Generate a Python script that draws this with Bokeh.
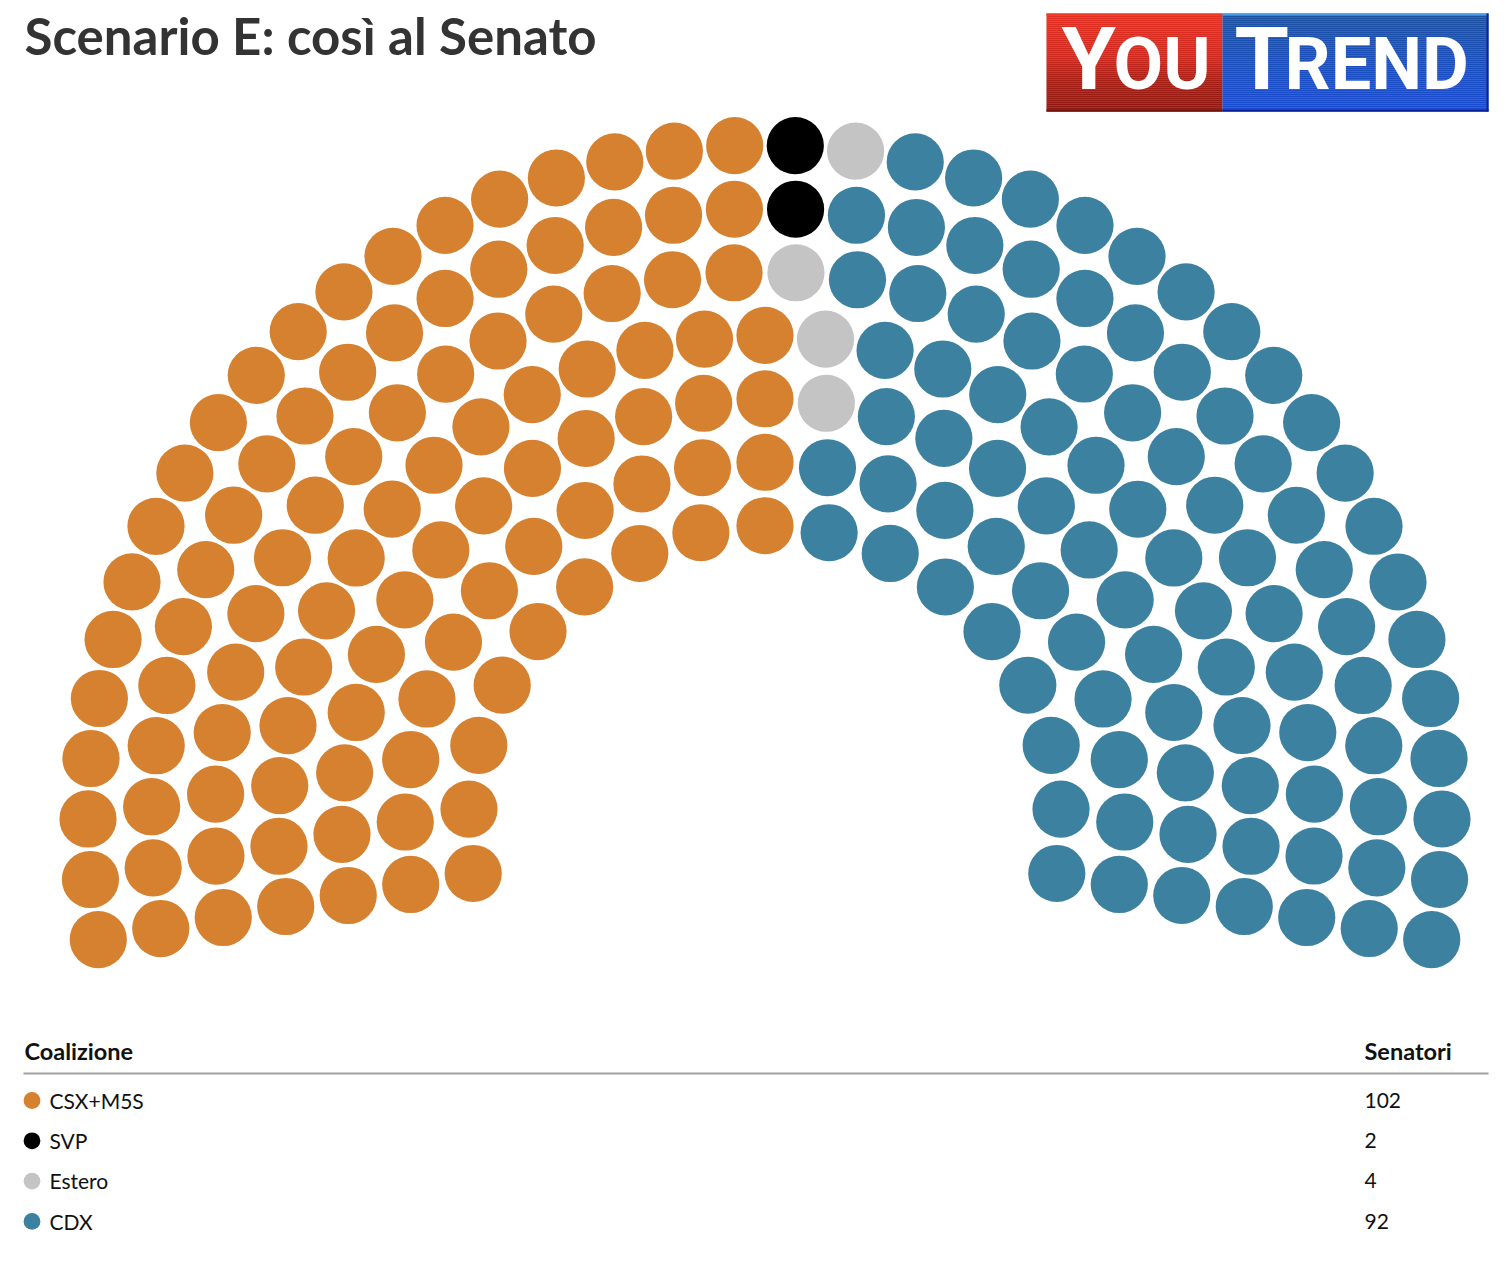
import math
from bokeh.plotting import figure
from bokeh.models import Range1d
from bokeh.core.properties import value
from bokeh.embed import file_html
from bokeh.resources import INLINE

# ---------------- data ----------------
parties = ["CSX+M5S", "SVP", "Estero", "CDX"]
seats = [102, 2, 4, 92]
colors = ["#d5812f", "#000000", "#c4c4c4", "#3c81a0"]
title_text = "Scenario E: così al Senato"
col_header_left = "Coalizione"
col_header_right = "Senatori"

# ---------------- layout params ----------------
W, H = 1490, 1256
N_ROWS = 7
ARC_DEG = 200.0
CX, CY = 764.5, 821.5
R_IN, R_OUT = 296.3, 677.0
DOT_R = 28.6
BASE_K = 0.39  # baseline correction factor for text


def by(baseline, size):
    return baseline - BASE_K * size


p = figure(width=W, height=H, output_backend="svg", toolbar_location=None,
           x_range=Range1d(0, W), y_range=Range1d(H, 0), min_border=0)
p.axis.visible = False
p.grid.visible = False
p.outline_line_color = None
p.background_fill_color = "white"
p.border_fill_color = "white"

# ---------------- parliament layout ----------------
total = sum(seats)
radii = [R_IN + i * (R_OUT - R_IN) / (N_ROWS - 1) for i in range(N_ROWS)]
raw = [total * r / sum(radii) for r in radii]
counts = [int(math.floor(v)) for v in raw]
rem = total - sum(counts)
order = sorted(range(N_ROWS), key=lambda i: -(raw[i] - counts[i]))
for i in order[:rem]:
    counts[i] += 1

seat_list = []
start = 90 + ARC_DEG / 2
for ri, (r, n) in enumerate(zip(radii, counts)):
    for k in range(n):
        ang = start - k * ARC_DEG / (n - 1)
        seat_list.append((round(ang, 6), ri, r))
seat_list.sort(key=lambda s: (-s[0], s[1]))

seat_colors = []
for c, n in zip(colors, seats):
    seat_colors += [c] * n

xs, ys = [], []
for ang, ri, r in seat_list:
    a = math.radians(ang)
    xs.append(CX + r * math.cos(a))
    ys.append(CY - r * math.sin(a))

p.circle(x=xs, y=ys, radius=DOT_R, fill_color=seat_colors, line_color=None)

# ---------------- title ----------------
TS = 51
p.text(x=[24], y=[by(54.5, TS)], text=[title_text], text_font=value("Lato"),
       text_font_style="bold", text_font_size=f"{TS}px", text_color="#333333",
       text_baseline="alphabetic", text_align="left")

# ---------------- logo ----------------
def lerp(c1, c2, t):
    return "#%02x%02x%02x" % tuple(int(round(a + (b - a) * t)) for a, b in zip(c1, c2))

LX0, LX1, LX2 = 1046, 1222, 1488
LY0, LY1 = 13, 111
nb = 49
bh = (LY1 - LY0) / nb
red_stops = [(0.0, (228, 48, 34)), (0.45, (205, 40, 30)), (0.7, (165, 30, 20)), (1.0, (140, 24, 16))]
blue_stops = [(0.0, (28, 80, 158)), (0.5, (26, 78, 188)), (1.0, (24, 74, 208))]


def grad(stops, t):
    for (t0, c0), (t1, c1) in zip(stops[:-1], stops[1:]):
        if t <= t1:
            return lerp(c0, c1, (t - t0) / (t1 - t0))
    return lerp(stops[-1][1], stops[-1][1], 0)


for b in range(nb):
    t = (b + 0.5) / nb
    y0 = LY0 + b * bh
    p.quad(left=[LX0], right=[LX1], top=[y0], bottom=[y0 + bh + 0.3],
           fill_color=grad(red_stops, t), line_color=None)
    p.quad(left=[LX1], right=[LX2], top=[y0], bottom=[y0 + bh + 0.3],
           fill_color=grad(blue_stops, t), line_color=None)
# edges
p.quad(left=[LX0], right=[LX1], top=[LY0], bottom=[LY0 + 2], fill_color="#ee3a2a", line_color=None)
p.quad(left=[LX1], right=[LX2], top=[LY0], bottom=[LY0 + 2], fill_color="#4a9de6", line_color=None)
p.quad(left=[LX0], right=[LX1], top=[LY1 - 2], bottom=[LY1], fill_color="#6e120a", line_color=None)
p.quad(left=[LX1], right=[LX2], top=[LY1 - 2], bottom=[LY1], fill_color="#0a1f96", line_color=None)
p.quad(left=[LX2 - 2], right=[LX2], top=[LY0], bottom=[LY1], fill_color="#0a2296", line_color=None)

BIG, SMALL = 88, 72
logo_base = 92.5
for tx, txt, sz in [(1061, "Y", BIG), (1113, "OU", SMALL), (1234, "T", BIG), (1284, "REND", SMALL)]:
    p.text(x=[tx], y=[by(logo_base, sz)], text=[txt], text_font=value("Roboto"), text_font_style="bold",
           text_font_size=f"{sz}px", text_color="white", text_baseline="alphabetic", text_align="left")

# ---------------- legend table ----------------
HS = 23.5
for hx, htxt in [(24, col_header_left), (1364, col_header_right)]:
    p.text(x=[hx], y=[by(1059.5, HS)], text=[htxt], text_font=value("Lato"),
           text_font_style="bold", text_font_size=f"{HS}px", text_color="#111111",
           text_baseline="alphabetic", text_align="left")
p.segment(x0=[23], y0=[1073], x1=[1488], y1=[1073], line_color="#a0a0a0", line_width=2)

LS = 21
row_gap = 40.3
dot_y = [1100 + i * row_gap for i in range(len(parties))]
txt_y = [by(1108 + i * row_gap, LS) for i in range(len(parties))]
p.circle(x=[31.5] * len(parties), y=dot_y, radius=8.4, fill_color=colors, line_color=None)
p.text(x=[49] * len(parties), y=txt_y, text=parties, text_font=value("Lato"),
       text_font_size=f"{LS}px", text_color="#111111", text_baseline="alphabetic", text_align="left")
p.text(x=[1364] * len(parties), y=txt_y, text=[str(s) for s in seats], text_font=value("Lato"),
       text_font_size=f"{LS}px", text_color="#111111", text_baseline="alphabetic", text_align="left")

open("out.html", "w").write(file_html(p, INLINE))
